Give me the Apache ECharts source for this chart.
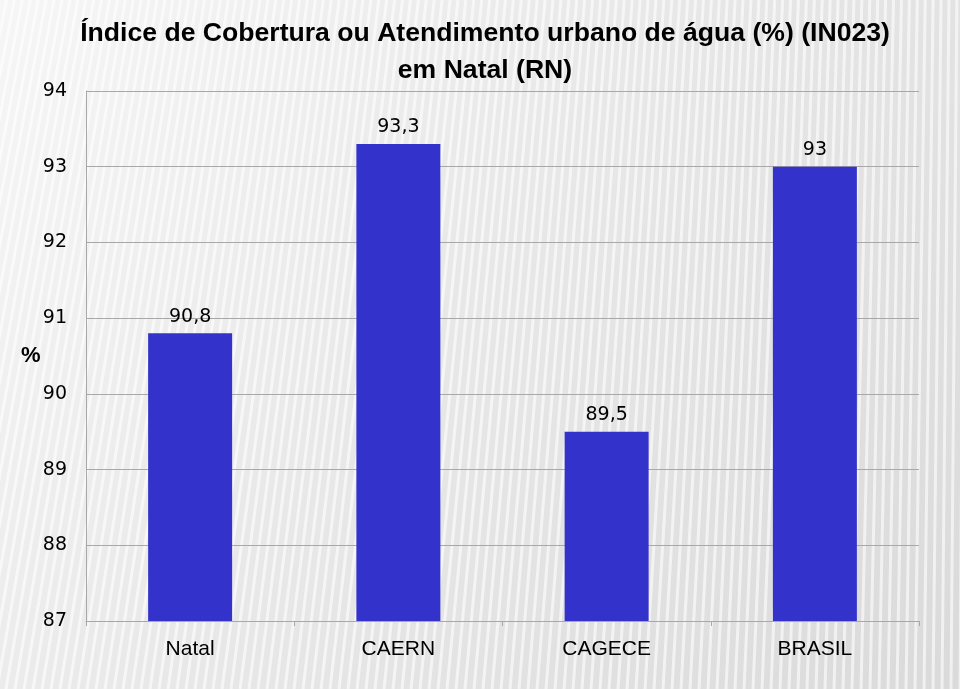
<!DOCTYPE html>
<html><head><meta charset="utf-8">
<script src="https://cdn.jsdelivr.net/npm/echarts@6/dist/echarts.min.js"></script>
<style>html,body{margin:0;padding:0;}#c{width:960px;height:689px;}</style>
</head><body><div id="c"></div>
<script>
const categories = ['Natal', 'CAERN', 'CAGECE', 'BRASIL'];
const values = [90.8, 93.3, 89.5, 93];
const yTicks = [87, 88, 89, 90, 91, 92, 93, 94];

// striped background pattern
const pc = document.createElement('canvas');
pc.width = 960; pc.height = 689;
const g = pc.getContext('2d');
const grd = g.createLinearGradient(0, 0, 960, 689);
grd.addColorStop(0, '#f6f6f6');
grd.addColorStop(0.45, '#e8e8e8');
grd.addColorStop(1, '#dadada');
g.fillStyle = grd; g.fillRect(0, 0, 960, 689);
g.strokeStyle = 'rgba(255,255,255,0.6)';
g.lineWidth = 3;
for (let x = -300; x < 1100; x += 9) {
  const slant = Math.max(0, 120 - x * 0.12);
  g.beginPath(); g.moveTo(x, 689); g.lineTo(x + slant, 0); g.stroke();
}

const chart = echarts.init(document.getElementById('c'));
chart.setOption({
  backgroundColor: {image: pc, repeat: 'no-repeat'},
  animation: false,
  title: {
    text: 'Índice de Cobertura ou Atendimento urbano de água (%) (IN023)\nem Natal (RN)',
    left: 480, top: 10, textAlign: 'center',
    textStyle: {fontFamily: 'Liberation Sans', fontWeight: 'bold', fontSize: 26.6, lineHeight: 37, color: '#000'}
  },
  grid: {left: 86, right: 41, top: 91, bottom: 68, containLabel: false},
  xAxis: {
    type: 'category', data: categories,
    axisLine: {lineStyle: {color: '#a8a8a8'}},
    axisTick: {show: true, lineStyle: {color: '#a8a8a8'}},
    axisLabel: {fontFamily: 'Liberation Sans', fontSize: 21, color: '#000', margin: 18}
  },
  yAxis: {
    type: 'value', min: yTicks[0], max: yTicks[yTicks.length - 1], interval: 1,
    axisLine: {show: true, lineStyle: {color: '#a8a8a8'}},
    axisTick: {show: false},
    splitLine: {lineStyle: {color: '#a8a8a8'}},
    axisLabel: {fontFamily: 'DejaVu Sans', fontSize: 19, color: '#000', margin: 19}
  },
  graphic: [{type: 'text', left: 21, top: 345, style: {text: '%', font: 'bold 22px Liberation Sans', fill: '#000'}}],
  series: [{
    type: 'bar', data: values, barWidth: 84,
    itemStyle: {color: '#3333CC'},
    label: {show: true, position: 'top', distance: 7, fontFamily: 'DejaVu Sans', fontSize: 19, color: '#000',
      formatter: p => String(p.value).replace('.', ',')}
  }]
});
</script></body></html>
